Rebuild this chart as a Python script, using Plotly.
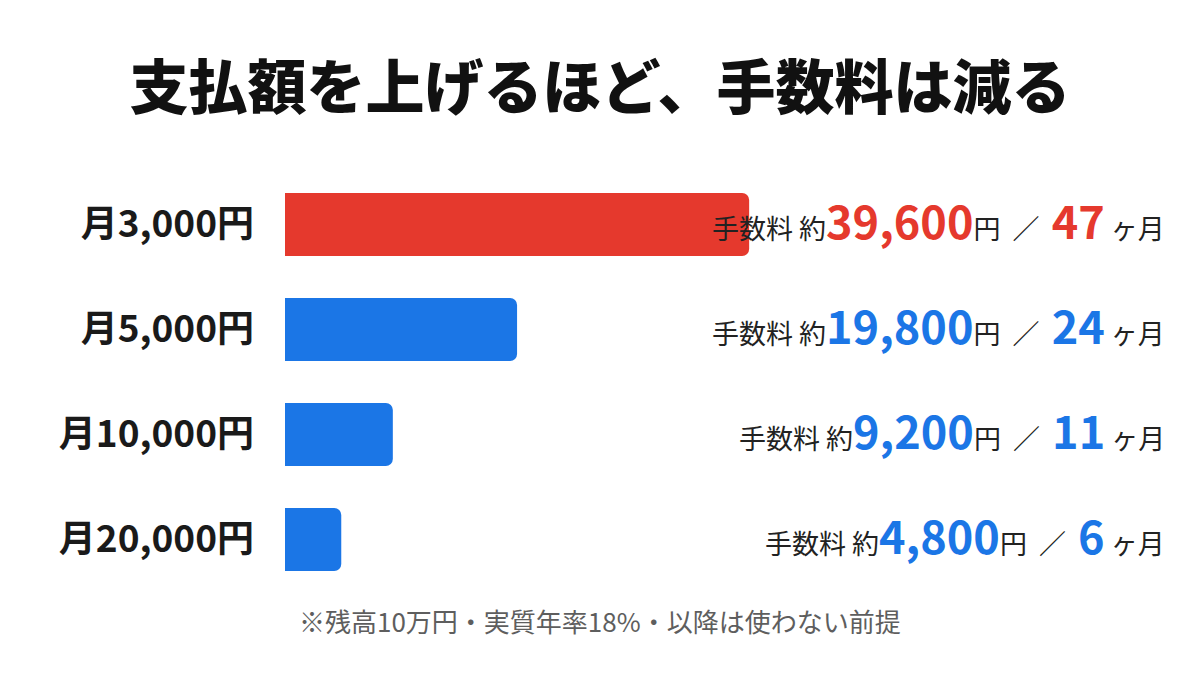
import plotly.graph_objects as go

categories = ["月3,000円", "月5,000円", "月10,000円", "月20,000円"]
fees = [39600, 19800, 9200, 4800]
months = [47, 24, 11, 6]
fee_labels = ["39,600", "19,800", "9,200", "4,800"]
title_text = "支払額を上げるほど、手数料は減る"
note_text = "※残高10万円・実質年率18%・以降は使わない前提"

RED = "#E5392D"
BLUE = "#1B76E6"
colors = [RED, BLUE, BLUE, BLUE]
FONT = "Noto Sans CJK JP"

fig = go.Figure(go.Bar(
    x=fees, y=categories, orientation="h",
    marker=dict(color=colors, line=dict(width=0)),
    width=0.6, hoverinfo="skip",
))

annotations = []
for cat, lab, m, c in zip(categories, fee_labels, months, colors):
    txt = (f"手数料 約<b><span style='font-size:45px;color:{c}'>{lab}</span></b>円  ／  "
           f"<b><span style='font-size:45px;color:{c}'>{m}</span></b> ヶ月")
    annotations.append(dict(
        x=1, xref="paper", y=cat, yref="y", xanchor="right", yanchor="middle",
        text=txt, showarrow=False, yshift=5,
        font=dict(family=FONT, size=27, color="#222222"),
    ))

annotations.append(dict(
    x=(600 - 285) / 882, xref="paper", y=-28 / 420, yref="paper",
    xanchor="center", yanchor="middle",
    text=note_text, showarrow=False, font=dict(family=FONT, size=26, color="#5e5e5e"),
))

fig.update_layout(
    width=1200, height=675,
    margin=dict(l=285, r=33, t=172, b=83),
    paper_bgcolor="white", plot_bgcolor="white",
    barcornerradius=7,
    showlegend=False,
    title=dict(text=title_text, x=0.5, xanchor="center", y=1 - 88 / 675, yanchor="middle",
               font=dict(family=FONT, size=59, color="#111111", weight=900)),
    xaxis=dict(range=[0, 75250], visible=False, fixedrange=True),
    yaxis=dict(autorange="reversed", showgrid=False, zeroline=False, showline=False,
               ticks="", ticklabelstandoff=30,
               tickfont=dict(family=FONT, size=37, color="#1a1a1a", weight="bold")),
    annotations=annotations,
)

fig.write_html("out.html")
